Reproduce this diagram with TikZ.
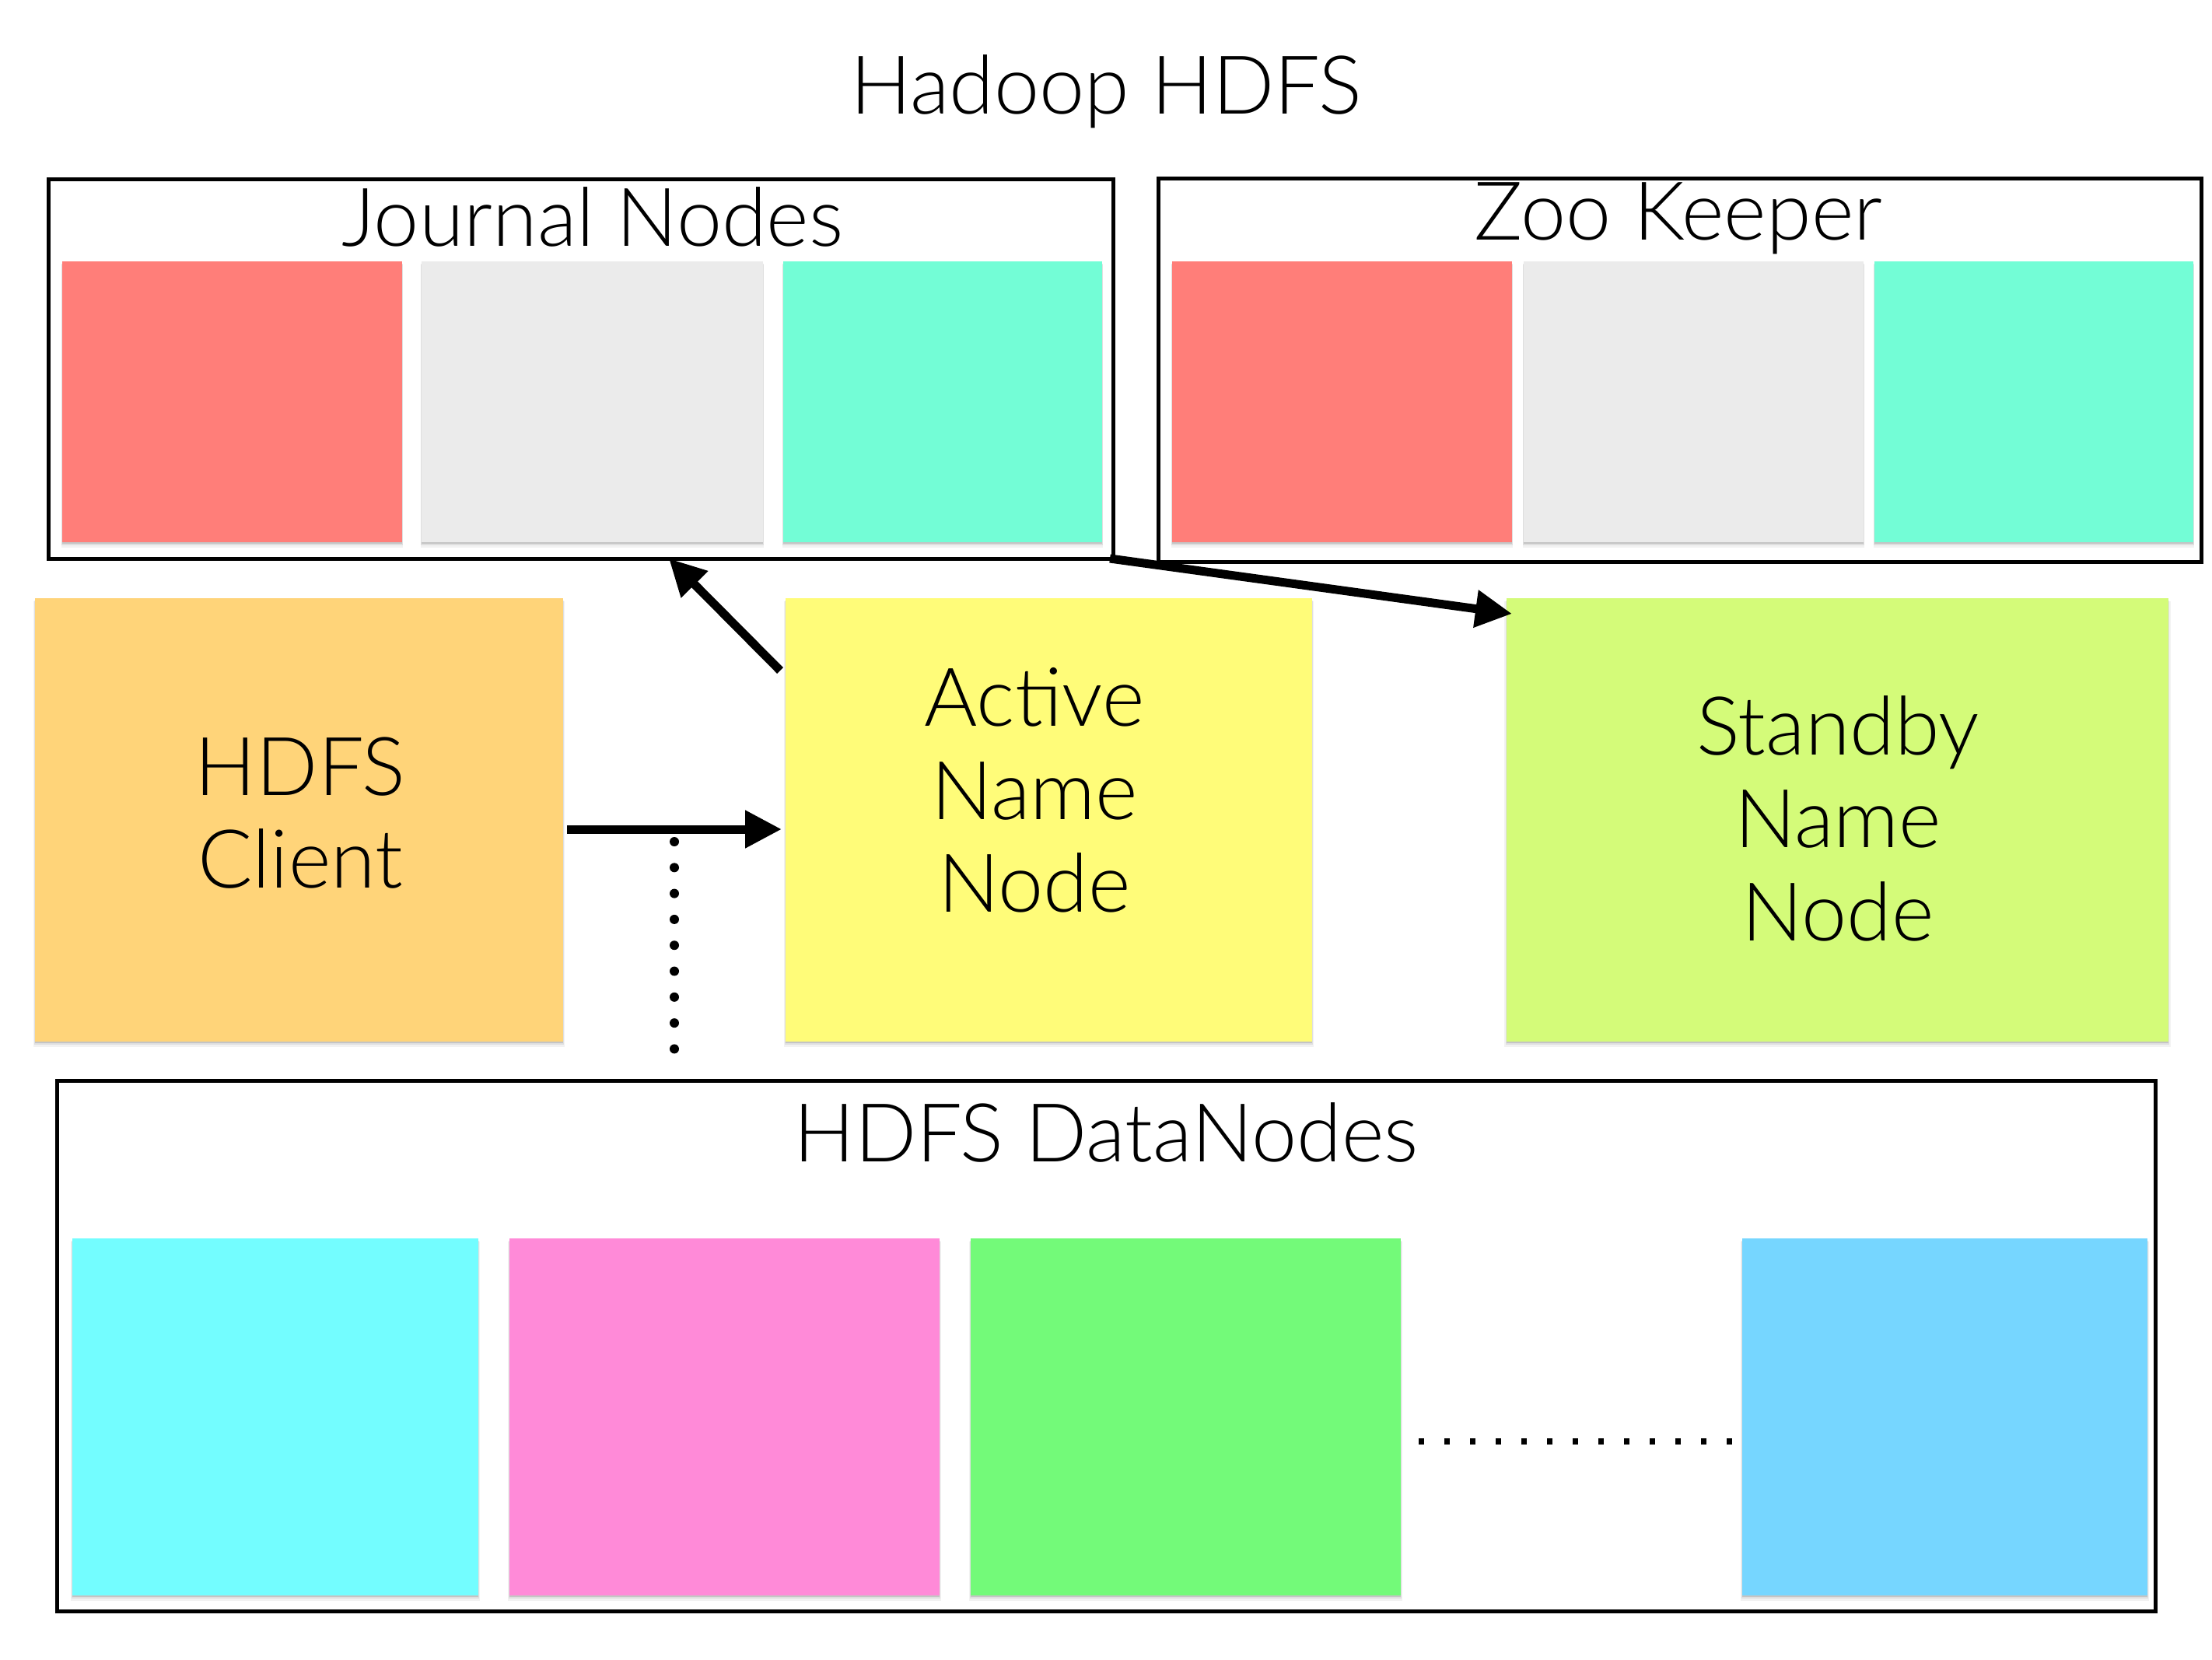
\documentclass[tikz,border=0pt]{standalone}
\usepackage{fontspec}
\setmainfont{Lato Light}
\usetikzlibrary{arrows.meta,shadows}
\definecolor{salmon}{HTML}{FF7E79}
\definecolor{mercury}{HTML}{EBEBEB}
\definecolor{spindrift}{HTML}{73FDD6}
\definecolor{cantaloupe}{HTML}{FFD479}
\definecolor{banana}{HTML}{FFFC79}
\definecolor{honeydew}{HTML}{D4FB79}
\definecolor{icecol}{HTML}{73FDFF}
\definecolor{carnation}{HTML}{FF8AD8}
\definecolor{flora}{HTML}{73FA79}
\definecolor{skycol}{HTML}{76D6FF}
\tikzset{
  note/.style={rectangle, anchor=north west, inner sep=0pt, outer sep=0pt, draw=none,
    fill=#1,
    drop shadow={shadow xshift=0pt, shadow yshift=-0.055cm, shadow scale=1.006, opacity=0.05, fill=black},
    drop shadow={shadow xshift=0pt, shadow yshift=-0.035cm, shadow scale=1.003, opacity=0.08, fill=black},
    drop shadow={shadow xshift=0pt, shadow yshift=-0.018cm, opacity=0.12, fill=black}},
  container/.style={rectangle, anchor=north west, inner sep=0pt, outer sep=0pt, draw=black, line width=0.05cm},
  lbl/.style={font=\fontsize{29.7}{34}\selectfont, inner sep=0pt, align=center},
  bigarrow/.style={line width=0.11cm, -{Triangle[length=0.47cm, width=0.46cm]}},
}
\begin{document}
\begin{tikzpicture}
\useasboundingbox (0,0) rectangle (28.44,-21.33);
% title
\node[lbl] (title) at (14.22,-1.18) {Hadoop HDFS};
% Journal nodes
\node[container, minimum width=13.69cm, minimum height=4.88cm] (jn) at (0.62,-2.30) {};
\node[lbl] (jnlabel) at (7.62,-2.79) {Journal Nodes};
\node[note=salmon, minimum width=4.37cm, minimum height=3.61cm] (jn1) at (0.80,-3.36) {};
\node[note=mercury, minimum width=4.39cm, minimum height=3.61cm] (jn2) at (5.42,-3.36) {};
\node[note=spindrift, minimum width=4.10cm, minimum height=3.61cm] (jn3) at (10.07,-3.36) {};
% Zoo keeper
\node[container, minimum width=13.41cm, minimum height=4.93cm] (zk) at (14.89,-2.29) {};
\node[lbl] (zklabel) at (21.58,-2.81) {Zoo Keeper};
\node[note=salmon, minimum width=4.37cm, minimum height=3.61cm] (zk1) at (15.07,-3.36) {};
\node[note=mercury, minimum width=4.37cm, minimum height=3.61cm] (zk2) at (19.59,-3.36) {};
\node[note=spindrift, minimum width=4.10cm, minimum height=3.61cm] (zk3) at (24.10,-3.36) {};
% middle row
\node[note=cantaloupe, minimum width=6.79cm, minimum height=5.70cm] (client) at (0.45,-7.69) {};
\node[lbl] (clienttext) at (3.86,-10.45) {HDFS\\Client};
\node[note=banana, minimum width=6.77cm, minimum height=5.70cm] (active) at (10.10,-7.69) {};
\node[lbl] (activetext) at (13.30,-10.16) {Active\\Name\\Node};
\node[note=honeydew, minimum width=8.51cm, minimum height=5.70cm] (standby) at (19.37,-7.69) {};
\node[lbl] (standbytext) at (23.63,-10.52) {Standby\\Name\\Node};
% data nodes
\node[container, minimum width=26.98cm, minimum height=6.82cm] (dn) at (0.73,-13.89) {};
\node[lbl] (dnlabel) at (14.22,-14.56) {HDFS DataNodes};
\node[note=icecol, minimum width=5.22cm, minimum height=4.59cm] (dn1) at (0.93,-15.92) {};
\node[note=carnation, minimum width=5.53cm, minimum height=4.59cm] (dn2) at (6.55,-15.92) {};
\node[note=flora, minimum width=5.53cm, minimum height=4.59cm] (dn3) at (12.48,-15.92) {};
\node[note=skycol, minimum width=5.21cm, minimum height=4.59cm] (dn4) at (22.40,-15.92) {};
% connectors
\draw[bigarrow] ([xshift=0.05cm,yshift=-0.12cm]client.east) -- ([xshift=-0.05cm,yshift=-0.12cm]active.west);
\draw[bigarrow] ([xshift=-0.07cm,yshift=-0.93cm]active.north west) -- ([xshift=1.135cm]jn.south);
\draw[bigarrow] ([xshift=-0.04cm]jn.south east) -- ([xshift=0.07cm,yshift=-0.20cm]standby.north west);
% dotted lines
\coordinate (vtop) at (8.67,-10.82);
\coordinate (vbot) at (8.67,-13.52);
\draw[line width=0.12cm, line cap=round, dash pattern=on 0pt off 0.333cm] (vtop) -- (vbot);
\coordinate (hleft) at (18.24,-18.53);
\coordinate (hright) at (22.28,-18.53);
\draw[line width=0.085cm, dash pattern=on 0.07cm off 0.26cm] (hleft) -- (hright);
\end{tikzpicture}
\end{document}
